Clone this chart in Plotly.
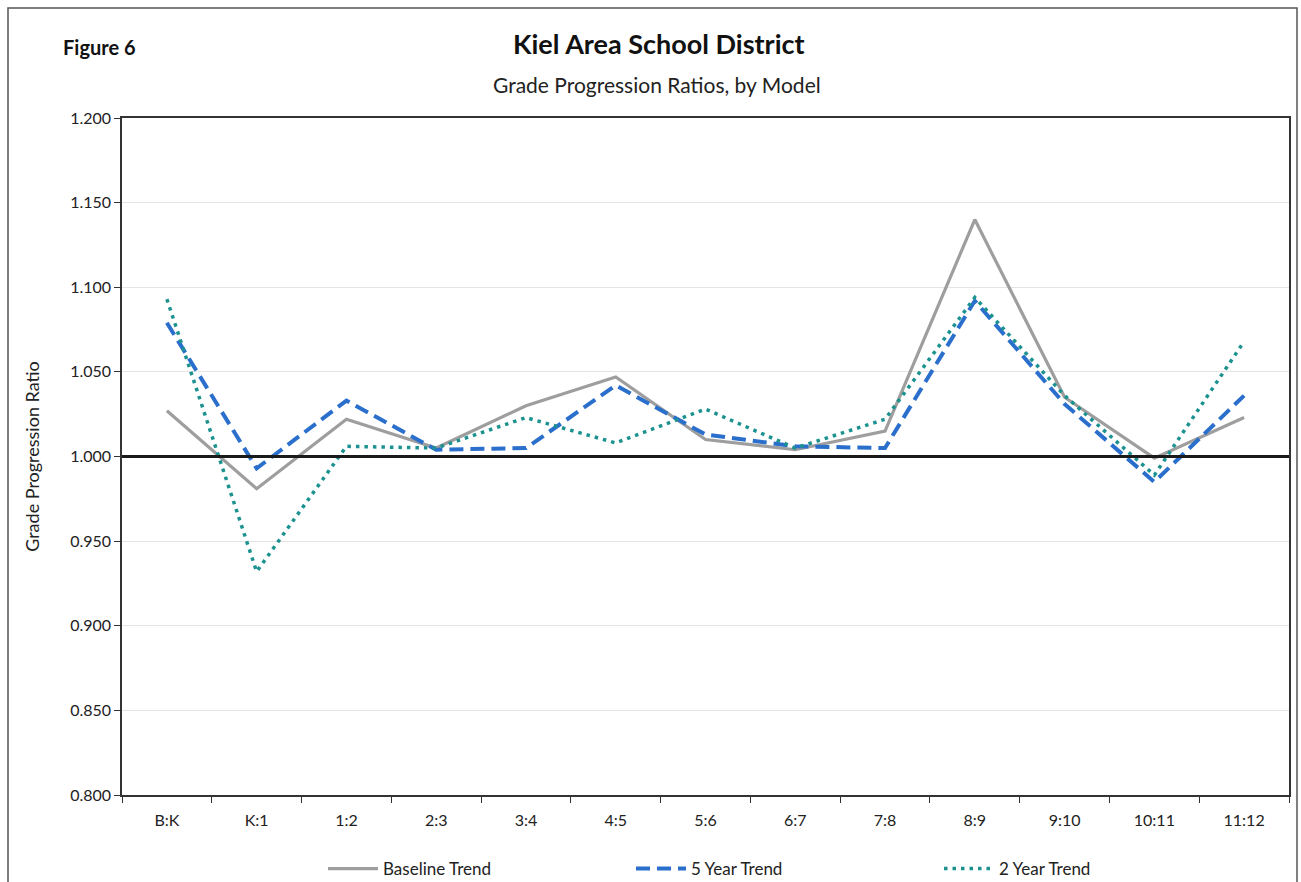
import plotly.graph_objects as go

# Grade transitions (x axis categories)
grades = ["B:K", "K:1", "1:2", "2:3", "3:4", "4:5", "5:6", "6:7", "7:8", "8:9", "9:10", "10:11", "11:12"]

# Grade progression ratios for each projection model
baseline_trend = [1.027, 0.981, 1.022, 1.005, 1.030, 1.047, 1.010, 1.004, 1.015, 1.140, 1.035, 0.999, 1.023]
five_year_trend = [1.079, 0.993, 1.033, 1.004, 1.005, 1.042, 1.013, 1.006, 1.005, 1.092, 1.031, 0.985, 1.036]
two_year_trend = [1.093, 0.932, 1.006, 1.005, 1.023, 1.008, 1.028, 1.005, 1.022, 1.094, 1.036, 0.989, 1.068]

y_ticks = [0.80, 0.85, 0.90, 0.95, 1.00, 1.05, 1.10, 1.15, 1.20]

FONT = "Lato, 'Open Sans', sans-serif"

fig = go.Figure()
fig.add_trace(go.Scatter(
    x=grades, y=baseline_trend, name="Baseline Trend", mode="lines",
    line=dict(color="#9E9E9E", width=3.2),
))
fig.add_trace(go.Scatter(
    x=grades, y=five_year_trend, name="5 Year Trend", mode="lines",
    line=dict(color="#2B6FCC", width=4, dash="14px,7px"),
))
fig.add_trace(go.Scatter(
    x=grades, y=two_year_trend, name="2 Year Trend", mode="lines",
    line=dict(color="#1B9290", width=3.5, dash="3.5px,5px"),
))

L, R, T, B = 122, 12, 118, 87
W, H = 1301, 882
pw, ph = W - L - R, H - T - B

def px_x(p):
    return (p - L) / pw

def px_y(p):
    return (H - B - p) / ph

shapes = [
    # reference line at a ratio of 1.000
    dict(type="line", xref="paper", yref="y", x0=0, x1=1, y0=1.0, y1=1.0,
         line=dict(color="#1a1a1a", width=3), layer="above"),
    # outer frame around the whole figure (bottom edge runs off the page)
    dict(type="rect", xref="paper", yref="paper",
         x0=px_x(8), x1=px_x(1297), y0=px_y(892), y1=px_y(8),
         line=dict(color="#555555", width=1.5), layer="below"),
]

annotations = [
    dict(text="<b>Figure 6</b>", xref="paper", yref="paper",
         x=px_x(61), y=px_y(47), xanchor="left", yanchor="middle",
         showarrow=False, font=dict(family=FONT, size=20, color="#111111")),
    dict(text="<b>Kiel Area School District</b>", xref="paper", yref="paper",
         x=px_x(659), y=px_y(43), xanchor="center", yanchor="middle",
         showarrow=False, font=dict(family=FONT, size=27, color="#111111")),
    dict(text="Grade Progression Ratios, by Model", xref="paper", yref="paper",
         x=px_x(657), y=px_y(84), xanchor="center", yanchor="middle",
         showarrow=False, font=dict(family=FONT, size=21, color="#222222")),
]

fig.update_layout(
    width=W, height=H,
    margin=dict(l=L, r=R, t=T, b=B, autoexpand=False),
    paper_bgcolor="white", plot_bgcolor="white",
    font=dict(family=FONT, color="#222222"),
    shapes=shapes, annotations=annotations,
    showlegend=True,
    legend=dict(
        orientation="h", xanchor="left", yanchor="middle",
        x=px_x(323), y=px_y(869), bgcolor="rgba(0,0,0,0)",
        entrywidth=243, entrywidthmode="pixels",
        font=dict(family=FONT, size=17, color="#222222"),
        itemwidth=50, tracegroupgap=0,
    ),
    xaxis=dict(
        type="category", categoryorder="array", categoryarray=grades,
        showgrid=False, showline=True, linecolor="#333333", linewidth=1.5,
        mirror=True, ticks="outside", tickson="boundaries", ticklen=6,
        tickcolor="#333333", tickfont=dict(family=FONT, size=16, color="#222222"),
        ticklabelstandoff=10,
        range=[-0.5, len(grades) - 0.5],
    ),
    yaxis=dict(
        range=[0.8, 1.2], tickvals=y_ticks,
        ticktext=[f"{v:.3f}" for v in y_ticks],
        showgrid=True, gridcolor="#E4E4E4", gridwidth=1,
        showline=True, linecolor="#333333", linewidth=1.5, mirror=True,
        ticks="outside", ticklen=6, tickcolor="#333333",
        tickfont=dict(family=FONT, size=16, color="#222222"),
        zeroline=False,
        title=dict(text="Grade Progression Ratio", standoff=26,
                   font=dict(family=FONT, size=18, color="#222222")),
    ),
)

fig.write_html("out.html")
